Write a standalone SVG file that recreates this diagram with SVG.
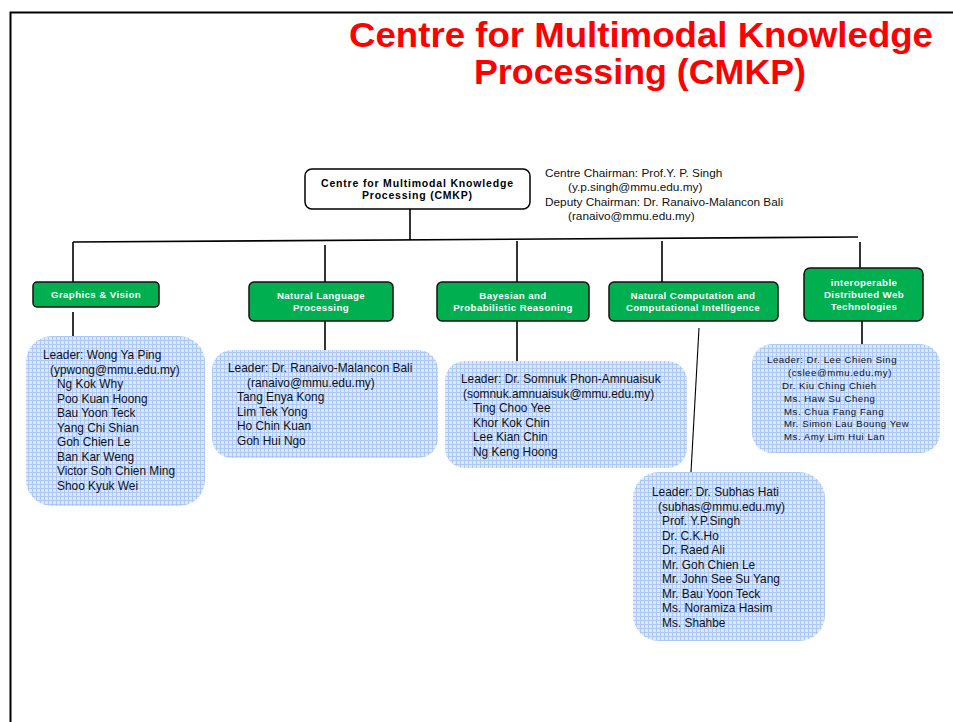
<svg xmlns="http://www.w3.org/2000/svg" width="953" height="722" viewBox="0 0 953 722">
<style>
.title{font-family:"Liberation Sans",Arial,sans-serif;font-weight:bold;font-size:35px;fill:#ff0000;text-anchor:middle}
.top{font-family:"Liberation Sans",Arial,sans-serif;font-weight:bold;font-size:10.5px;fill:#000;text-anchor:middle}
.chair{font-family:"Liberation Sans",Arial,sans-serif;font-size:11.8px;fill:#111}
.gbox{fill:#00b050;stroke:#111;stroke-width:1.5}
.gtxt{font-family:"Liberation Sans",Arial,sans-serif;font-weight:bold;font-size:9.7px;letter-spacing:0.4px;fill:#fff;text-anchor:middle}
.bbox{fill:url(#grid)}
.btxt{font-family:"Liberation Sans",Arial,sans-serif;font-size:11.9px;fill:#111}
.stxt{font-family:"Liberation Sans",Arial,sans-serif;font-size:9.6px;letter-spacing:0.55px;fill:#111}
.conn line{stroke:#000;stroke-width:1.6}
</style>
<defs>
<pattern id="grid" width="4" height="4" patternUnits="userSpaceOnUse">
<rect width="4" height="4" fill="#dbe8fc"/>
<rect width="4" height="1" fill="#adc8f3"/>
<rect width="1" height="4" fill="#adc8f3"/>
</pattern>
</defs>
<rect x="0" y="0" width="953" height="722" fill="#fff"/>
<rect x="10.5" y="12.5" width="960" height="720" fill="none" stroke="#000" stroke-width="2"/>
<g id="title">
<text class="title" x="641" y="47" textLength="584" lengthAdjust="spacingAndGlyphs">Centre for Multimodal Knowledge</text>
<text class="title" x="640" y="84" textLength="332" lengthAdjust="spacingAndGlyphs">Processing (CMKP)</text>
</g>
<g class="conn" id="connectors">
<line x1="410" y1="209" x2="410" y2="240"/>
<line x1="73" y1="242" x2="858" y2="237"/>
<line x1="73" y1="242" x2="73" y2="282"/>
<line x1="325" y1="245" x2="325" y2="282"/>
<line x1="517" y1="241" x2="517" y2="282"/>
<line x1="662" y1="241" x2="662" y2="282"/>
<line x1="860" y1="242" x2="860" y2="268"/>
<line x1="73" y1="312" x2="73" y2="336"/>
<line x1="325" y1="321" x2="325" y2="350"/>
<line x1="517" y1="321" x2="517" y2="361"/>
<line x1="699" y1="328" x2="691" y2="472" style="stroke-width:1.1"/>
<line x1="862" y1="321" x2="862" y2="344"/>
</g>
<g id="cmkp">
<rect x="305" y="169" width="225" height="40" rx="7" fill="#fff" stroke="#000" stroke-width="1.5"/>
<text class="top" x="417" y="187" textLength="192" lengthAdjust="spacing">Centre for Multimodal Knowledge</text>
<text class="top" x="417" y="199" textLength="110" lengthAdjust="spacing">Processing (CMKP)</text>
</g>
<g id="chairman">
<text class="chair" x="545" y="177">Centre Chairman: Prof.Y. P. Singh</text>
<text class="chair" x="568" y="191">(y.p.singh@mmu.edu.my)</text>
<text class="chair" x="545" y="206">Deputy Chairman: Dr. Ranaivo-Malancon Bali</text>
<text class="chair" x="568" y="220">(ranaivo@mmu.edu.my)</text>
</g>
<g id="graphics">
<rect class="gbox" x="33" y="282" width="126" height="25" rx="4"/>
<text class="gtxt" x="96" y="298">Graphics &amp; Vision</text>
</g>
<g id="nlp">
<rect class="gbox" x="249" y="282" width="144" height="39" rx="5"/>
<text class="gtxt" x="321" y="299">Natural Language</text>
<text class="gtxt" x="321" y="311">Processing</text>
</g>
<g id="bayesian">
<rect class="gbox" x="437" y="282" width="152" height="39" rx="5"/>
<text class="gtxt" x="513" y="299">Bayesian and</text>
<text class="gtxt" x="513" y="311">Probabilistic Reasoning</text>
</g>
<g id="natcomp">
<rect class="gbox" x="609" y="282" width="169" height="39" rx="5"/>
<text class="gtxt" x="693" y="299">Natural Computation and</text>
<text class="gtxt" x="693" y="311">Computational Intelligence</text>
</g>
<g id="interop">
<rect class="gbox" x="804" y="268" width="119" height="53" rx="6"/>
<text class="gtxt" x="864" y="286">interoperable</text>
<text class="gtxt" x="864" y="298">Distributed Web</text>
<text class="gtxt" x="864" y="310">Technologies</text>
</g>
<g id="team-graphics">
<rect class="bbox" x="26" y="336" width="179" height="170" rx="26"/>
<text class="btxt" x="43" y="359">Leader: Wong Ya Ping</text>
<text class="btxt" x="50" y="373.5">(ypwong@mmu.edu.my)</text>
<text class="btxt" x="57" y="388">Ng Kok Why</text>
<text class="btxt" x="57" y="402.5">Poo Kuan Hoong</text>
<text class="btxt" x="57" y="417">Bau Yoon Teck</text>
<text class="btxt" x="57" y="431.5">Yang Chi Shian</text>
<text class="btxt" x="57" y="446">Goh Chien Le</text>
<text class="btxt" x="57" y="460.5">Ban Kar Weng</text>
<text class="btxt" x="57" y="475">Victor Soh Chien Ming</text>
<text class="btxt" x="57" y="489.5">Shoo Kyuk Wei</text>
</g>
<g id="team-nlp">
<rect class="bbox" x="212" y="350" width="226" height="108" rx="20"/>
<text class="btxt" x="228" y="372">Leader: Dr. Ranaivo-Malancon Bali</text>
<text class="btxt" x="247" y="386.5">(ranaivo@mmu.edu.my)</text>
<text class="btxt" x="237" y="401">Tang Enya Kong</text>
<text class="btxt" x="237" y="415.5">Lim Tek Yong</text>
<text class="btxt" x="237" y="430">Ho Chin Kuan</text>
<text class="btxt" x="237" y="444.5">Goh Hui Ngo</text>
</g>
<g id="team-bayesian">
<rect class="bbox" x="445" y="361" width="242" height="107" rx="20"/>
<text class="btxt" x="461" y="383">Leader: Dr. Somnuk Phon-Amnuaisuk</text>
<text class="btxt" x="463" y="397.5">(somnuk.amnuaisuk@mmu.edu.my)</text>
<text class="btxt" x="473" y="412">Ting Choo Yee</text>
<text class="btxt" x="473" y="426.5">Khor Kok Chin</text>
<text class="btxt" x="473" y="441">Lee Kian Chin</text>
<text class="btxt" x="473" y="455.5">Ng Keng Hoong</text>
</g>
<g id="team-interop">
<rect class="bbox" x="752" y="344" width="188" height="109" rx="20"/>
<text class="stxt" x="767" y="363">Leader: Dr. Lee Chien Sing</text>
<text class="stxt" x="788" y="376">(cslee@mmu.edu.my)</text>
<text class="stxt" x="782" y="389">Dr. Kiu Ching Chieh</text>
<text class="stxt" x="784" y="401.5">Ms. Haw Su Cheng</text>
<text class="stxt" x="784" y="414.5">Ms. Chua Fang Fang</text>
<text class="stxt" x="784" y="427">Mr. Simon Lau Boung Yew</text>
<text class="stxt" x="784" y="439.5">Ms. Amy Lim Hui Lan</text>
</g>
<g id="team-natcomp">
<rect class="bbox" x="633" y="472" width="192" height="169" rx="26"/>
<text class="btxt" x="652" y="496">Leader: Dr. Subhas Hati</text>
<text class="btxt" x="658" y="510.5">(subhas@mmu.edu.my)</text>
<text class="btxt" x="662" y="525">Prof. Y.P.Singh</text>
<text class="btxt" x="662" y="539.5">Dr. C.K.Ho</text>
<text class="btxt" x="662" y="554">Dr. Raed Ali</text>
<text class="btxt" x="662" y="568.5">Mr. Goh Chien Le</text>
<text class="btxt" x="662" y="583">Mr. John See Su Yang</text>
<text class="btxt" x="662" y="597.5">Mr. Bau Yoon Teck</text>
<text class="btxt" x="662" y="612">Ms. Noramiza Hasim</text>
<text class="btxt" x="662" y="626.5">Ms. Shahbe</text>
</g>
</svg>
